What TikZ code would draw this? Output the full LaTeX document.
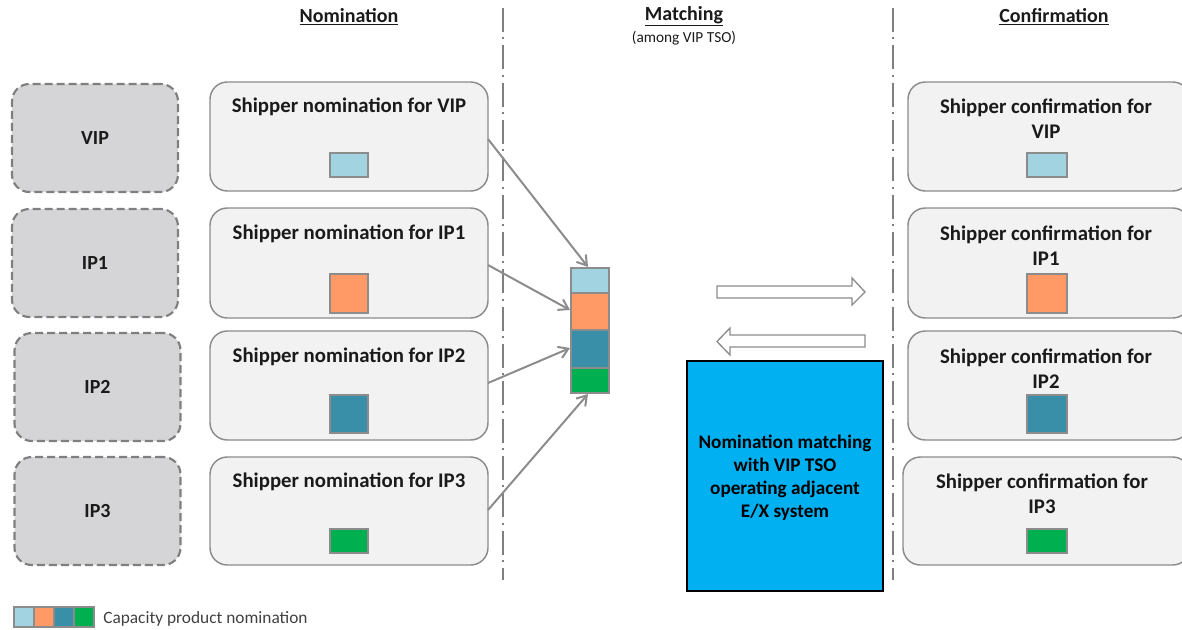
\documentclass[tikz,border=0pt]{standalone}
\usepackage{fontspec}
\setmainfont{Carlito}
\usetikzlibrary{arrows.meta,positioning,fit}
\definecolor{sitefill}{HTML}{D5D5D7}
\definecolor{sitedraw}{HTML}{7F7F7F}
\definecolor{boxfill}{HTML}{F2F2F2}
\definecolor{boxdraw}{HTML}{8C8C8C}
\definecolor{capA}{HTML}{A1D3E0}
\definecolor{capB}{HTML}{FF9966}
\definecolor{capC}{HTML}{3A8FA8}
\definecolor{capD}{HTML}{00B050}
\definecolor{matchfill}{HTML}{00B0F0}
\definecolor{txt}{HTML}{1A1A1A}
\tikzset{
  site/.style={draw=sitedraw, fill=sitefill, dashed, dash pattern=on 6pt off 3pt,
    line width=1.6pt, rounded corners=13pt, minimum width={166*0.75pt},
    minimum height={108*0.75pt}, font=\bfseries\fontsize{15}{18}\selectfont, text=txt},
  shipbox/.style={draw=boxdraw, fill=boxfill, line width=1.1pt, rounded corners=13pt},
  title/.style={font=\bfseries\fontsize{15.6}{18.75}\selectfont, text=txt, align=center},
  capbox/.style={draw=boxdraw, line width=0.9pt, inner sep=0pt},
  flow/.style={draw=boxdraw, line width=1.5pt, -{Straight Barb[length=7pt,width=9pt,line width=1.5pt]}},
  divider/.style={draw=sitedraw, line width=1.5pt, dash pattern=on 18pt off 4pt on 1.5pt off 4.5pt},
  head/.style={font=\bfseries\fontsize{15}{18}\selectfont, text=txt},
  blockarrow/.style={draw=boxdraw, fill=white, line width=1pt}
}
\begin{document}
\begin{tikzpicture}[x=0.75pt,y=-0.75pt]
\useasboundingbox (0,0) rectangle (1182,629);

% column headings and dividers
\node[head] (hnom) at (349,16.5) {\underline{Nomination}};
\node[head] (hmat) at (684,16.5) {\underline{Matching}};
\node[font=\fontsize{11.5}{13}\selectfont, text=txt] (hmat2) at (684,38) {(among VIP TSO)};
\node[head] (hcon) at (1054,16.5) {\underline{Confirmation}};
\coordinate (d1a) at (503,8); \coordinate (d1b) at (503,580);
\coordinate (d2a) at (893,8); \coordinate (d2b) at (893,580);
\draw[divider] (d1a) -- (d1b);
\draw[divider] (d2a) -- (d2b);

% interconnection points
\node[site] (sVIP) at (95,138) {VIP};
\node[site] (sIP1) at (95,263) {IP1};
\node[site] (sIP2) at (97.5,387) {IP2};
\node[site] (sIP3) at (97.5,511) {IP3};

% shipper nominations
\draw[shipbox] (210,82) rectangle (488,191);
\draw[shipbox] (210,208) rectangle (488,318);
\draw[shipbox] (210,331) rectangle (488,440);
\draw[shipbox] (210,457) rectangle (488,565);
\node[title] (nVIP) at (349,107) {Shipper nomination\ for VIP};
\node[title] (nIP1) at (349,234) {Shipper nomination\ for IP1};
\node[title] (nIP2) at (349,357) {Shipper nomination\ for IP2};
\node[title] (nIP3) at (349,482) {Shipper nomination\ for IP3};
\node[capbox, fill=capA, minimum width={38*0.75pt}, minimum height={24*0.75pt}] (qVIP) at (349,165) {};
\node[capbox, fill=capB, minimum width={38*0.75pt}, minimum height={39*0.75pt}] (qIP1) at (349,293.5) {};
\node[capbox, fill=capC, minimum width={38*0.75pt}, minimum height={38*0.75pt}] (qIP2) at (349,414) {};
\node[capbox, fill=capD, minimum width={38*0.75pt}, minimum height={24*0.75pt}] (qIP3) at (349,541) {};
\coordinate (oVIP) at (488,139);
\coordinate (oIP1) at (488,265);
\coordinate (oIP2) at (488,383);
\coordinate (oIP3) at (488,510);

% stacked capacity products
\node[capbox, fill=capA, minimum width={38*0.75pt}, minimum height={25*0.75pt}] (kA) at (590,280.5) {};
\node[capbox, fill=capB, minimum width={38*0.75pt}, minimum height={37*0.75pt}] (kB) at (590,311.5) {};
\node[capbox, fill=capC, minimum width={38*0.75pt}, minimum height={38*0.75pt}] (kC) at (590,349) {};
\node[capbox, fill=capD, minimum width={38*0.75pt}, minimum height={25*0.75pt}] (kD) at (590,380.5) {};
\coordinate (tA) at (588,267);
\coordinate (tB) at (570,310);
\coordinate (tC) at (570,348);
\coordinate (tD) at (588,394);
\draw[flow] (oVIP) -- (tA);
\draw[flow] (oIP1) -- (tB);
\draw[flow] (oIP2) -- (tC);
\draw[flow] (oIP3) -- (tD);

% exchange arrows
\draw[blockarrow] (717,286) -- (852,286) -- (852,278) -- (865,292) -- (852,305) -- (852,298) -- (717,298) -- cycle;
\draw[blockarrow] (865,335) -- (730,335) -- (730,328) -- (717,341.5) -- (730,355) -- (730,347) -- (865,347) -- cycle;

% matching system
\node[draw=black, fill=matchfill, line width=2.2pt, minimum width={196*0.75pt},
  minimum height={230*0.75pt}, inner sep=0pt] (match) at (785,476) {};
\node[title, font=\bfseries\fontsize{14.4}{17.25}\selectfont, text=black] (mtext) at (785,478)
  {Nomination matching\\with VIP TSO\\operating adjacent\\E/X system};

% shipper confirmations
\draw[shipbox] (908,82) rectangle (1190,191);
\draw[shipbox] (908,208) rectangle (1190,318);
\draw[shipbox] (908,331) rectangle (1190,440);
\draw[shipbox] (903,457) rectangle (1190,565);
\node[title] (cVIP) at (1046,119) {Shipper confirmation for\\VIP};
\node[title] (cIP1) at (1046,246) {Shipper confirmation for\\IP1};
\node[title] (cIP2) at (1046,369) {Shipper confirmation for\\IP2};
\node[title] (cIP3) at (1042,494) {Shipper confirmation for\\IP3};
\node[capbox, fill=capA, minimum width={40*0.75pt}, minimum height={24*0.75pt}] (rVIP) at (1047,165) {};
\node[capbox, fill=capB, minimum width={40*0.75pt}, minimum height={39*0.75pt}] (rIP1) at (1047,293.5) {};
\node[capbox, fill=capC, minimum width={40*0.75pt}, minimum height={38*0.75pt}] (rIP2) at (1047,414) {};
\node[capbox, fill=capD, minimum width={40*0.75pt}, minimum height={24*0.75pt}] (rIP3) at (1047,541) {};

% legend
\node[capbox, fill=capA, minimum width={20*0.75pt}, minimum height={20*0.75pt}] (lA) at (24,617) {};
\node[capbox, fill=capB, minimum width={20*0.75pt}, minimum height={20*0.75pt}] (lB) at (44,617) {};
\node[capbox, fill=capC, minimum width={20*0.75pt}, minimum height={20*0.75pt}] (lC) at (64,617) {};
\node[capbox, fill=capD, minimum width={20*0.75pt}, minimum height={20*0.75pt}] (lD) at (84,617) {};
\node[anchor=west, font=\fontsize{13}{15}\selectfont, text={black!75}, inner sep=0pt] (ltext) at (103,619) {Capacity product nomination};
\end{tikzpicture}
\end{document}
